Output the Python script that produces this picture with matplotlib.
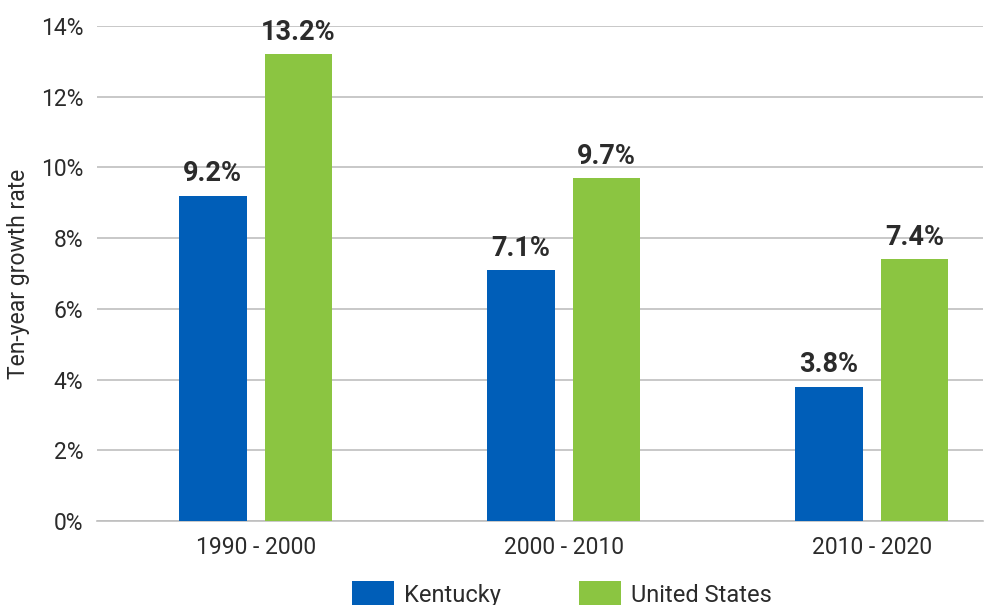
import numpy as np
import matplotlib as mpl
import matplotlib.pyplot as plt

mpl.use("Agg")

plt.rcParams["font.family"] = ["Roboto", "DejaVu Sans"]

# ten-year growth rates, percent
periods = ["1990 - 2000", "2000 - 2010", "2010 - 2020"]
kentucky = [9.2, 7.1, 3.8]
united_states = [13.2, 9.7, 7.4]
series_names = ["Kentucky", "United States"]
yticks = [0, 2, 4, 6, 8, 10, 12, 14]

BLUE = "#005EB8"
GREEN = "#8BC541"
GRID = "#BFBFBF"
TEXT = "#2B2B2B"

fig = plt.figure(figsize=(9.85, 6.05), dpi=100)
ax = fig.add_axes([0.0985, 0.139, 0.899, 0.818])

x = np.arange(len(periods))
w = 0.22
off = 0.139
b1 = ax.bar(x - off, kentucky, w, color=BLUE, label=series_names[0], zorder=3)
b2 = ax.bar(x + off, united_states, w, color=GREEN, label=series_names[1], zorder=3)

for bars, vals in ((b1, kentucky), (b2, united_states)):
    for r, v in zip(bars, vals):
        ax.annotate(f"{v:.1f}%", (r.get_x() + r.get_width() / 2, v),
                    xytext=(0, 6), textcoords="offset points",
                    ha="center", va="bottom", fontsize=19.5, fontweight="bold",
                    color=TEXT, zorder=4)

ax.set_ylim(0, 14)
ax.set_xlim(-0.515, 2.36)
ax.set_yticks(yticks)
ax.set_yticklabels([f"{t}%" for t in yticks])
ax.set_xticks(x)
ax.set_xticklabels(periods)
ax.tick_params(axis="both", length=0, labelsize=16.5, labelcolor=TEXT)
ax.tick_params(axis="y", pad=10)
ax.tick_params(axis="x", pad=11)

ax.grid(axis="y", color=GRID, lw=1.2, zorder=0)
for s in ("top", "right", "left"):
    ax.spines[s].set_visible(False)
ax.spines["bottom"].set_color(GRID)
ax.spines["bottom"].set_linewidth(1.2)

ax.set_ylabel("Ten-year growth rate", fontsize=16.5, color=TEXT, labelpad=8)

ax.legend(loc="upper center", bbox_to_anchor=(0.525, -0.078), ncol=2,
          frameon=False, fontsize=17, handlelength=1.8, handleheight=1.3,
          columnspacing=3.3, handletextpad=0.42, labelcolor=TEXT)

fig.savefig("out.png", dpi=100)
